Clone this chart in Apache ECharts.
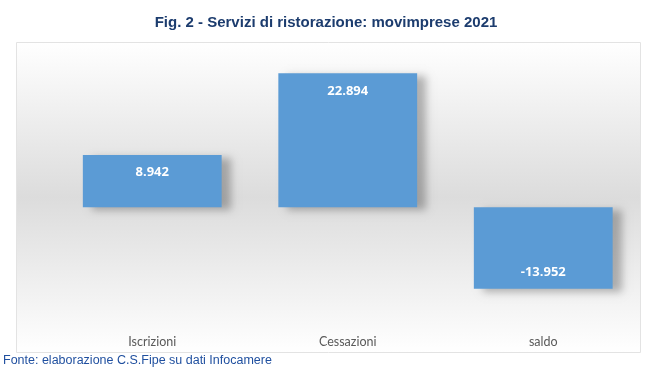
<!DOCTYPE html>
<html>
<head>
<meta charset="utf-8">
<script src="https://cdn.jsdelivr.net/npm/echarts@6/dist/echarts.min.js"></script>
<style>
  html, body { margin: 0; padding: 0; background: #fff; }
  #chart { width: 652px; height: 375px; }
</style>
</head>
<body>
<div id="chart"></div>
<script>
// dati movimprese 2021
var categories = ['Iscrizioni', 'Cessazioni', 'saldo'];
var values = [8942, 22894, -13952];

// formato italiano: 22.894
function fmt(v) {
  var s = String(Math.abs(v)).replace(/\B(?=(\d{3})+(?!\d))/g, '.');
  return (v < 0 ? '-' : '') + s;
}

var chart = echarts.init(document.getElementById('chart'));

var barData = values.map(function (v) {
  return {
    value: v,
    label: { position: v < 0 ? 'insideBottom' : 'insideTop', distance: v < 0 ? 10 : 11 }
  };
});

var option = {
  backgroundColor: '#fff',
  animation: false,
  title: {
    text: 'Fig. 2 - Servizi di ristorazione: movimprese 2021',
    left: 'center',
    top: 10,
    textStyle: { fontFamily: 'Liberation Sans', fontWeight: 'bold', fontSize: 15, color: '#1c3c6e' }
  },
  graphic: [
    {
      type: 'rect',
      z: -10,
      shape: { x: 16.5, y: 42.5, width: 624, height: 310 },
      style: {
        fill: new echarts.graphic.LinearGradient(0, 0, 0, 1, [
          { offset: 0, color: '#ffffff' },
          { offset: 0.5, color: '#dcdcdc' },
          { offset: 1, color: '#ffffff' }
        ]),
        stroke: '#e3e3e3',
        lineWidth: 1
      }
    },
    {
      type: 'text',
      left: 3,
      top: 354,
      style: {
        text: 'Fonte: elaborazione C.S.Fipe su dati Infocamere',
        fontFamily: 'Liberation Sans',
        fontSize: 12.5,
        fill: '#1f4f9f'
      }
    }
  ],
  grid: { left: 54.5, right: 11, top: 61, height: 263.25 },
  xAxis: {
    type: 'category',
    data: categories,
    axisLine: { show: false },
    axisTick: { show: false },
    axisLabel: { margin: 11, fontFamily: 'Lato', fontSize: 12.5, color: '#595959' }
  },
  yAxis: {
    type: 'value',
    min: -20000,
    max: 25000,
    show: false,
    splitLine: { show: false }
  },
  series: [
    {
      type: 'bar',
      data: barData,
      barCategoryGap: '29%',
      itemStyle: {
        color: '#5b9bd5',
        shadowColor: 'rgba(0,0,0,0.28)',
        shadowBlur: 8,
        shadowOffsetX: 9,
        shadowOffsetY: 3
      },
      label: {
        show: true,
        color: '#ffffff',
        fontFamily: 'Open Sans',
        fontWeight: 'bold',
        fontSize: 13,
        formatter: function (p) { return fmt(p.value); }
      }
    }
  ]
};

chart.setOption(option);
</script>
</body>
</html>
